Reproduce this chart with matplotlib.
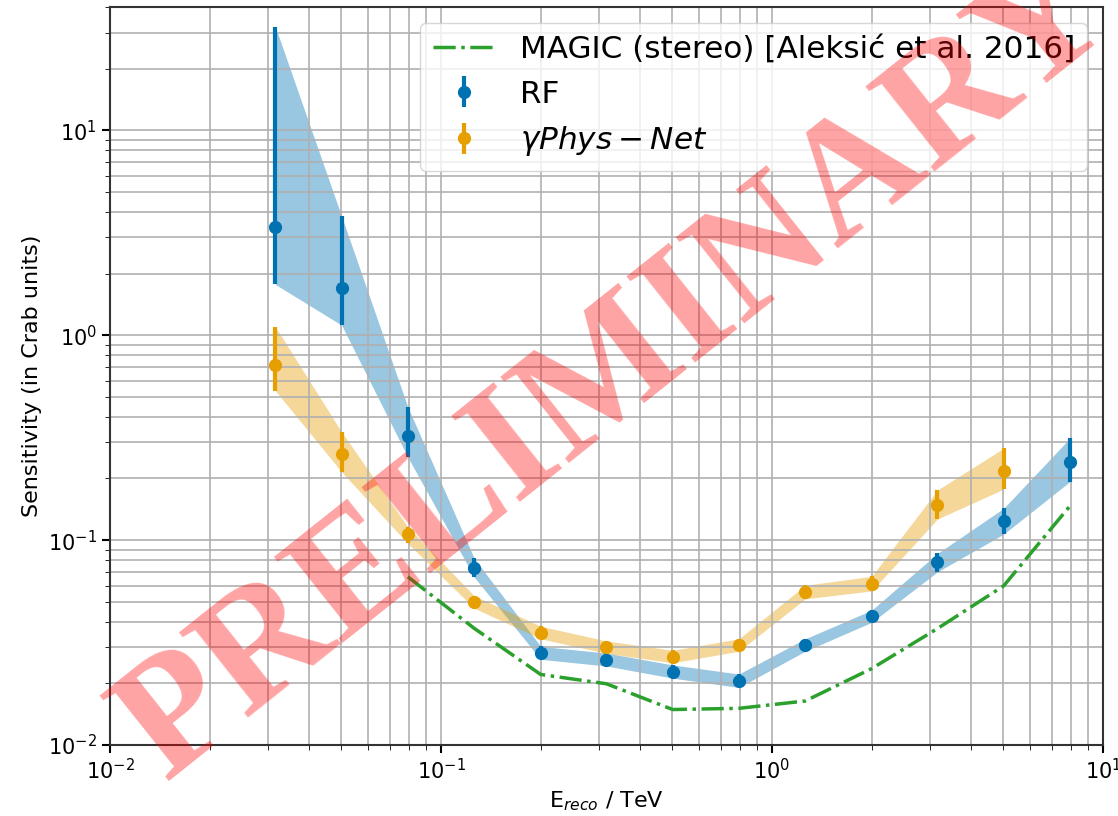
import numpy as np
import matplotlib
matplotlib.use('Agg')
import matplotlib.pyplot as plt

# energy bin centres (TeV)
energy = [0.0316, 0.0501, 0.0794, 0.126, 0.2, 0.316, 0.501, 0.794, 1.26, 2.0, 3.16, 5.01, 7.94]

# RF sensitivity (Crab units) with lower / upper limits
rf_sens = [3.36, 1.71, 0.323, 0.0732, 0.0282, 0.0261, 0.0228, 0.0206, 0.0307, 0.0425, 0.0778, 0.1234, 0.240]
rf_low = [1.77, 1.12, 0.254, 0.066, 0.0262, 0.0243, 0.0212, 0.0191, 0.0287, 0.0397, 0.0700, 0.107, 0.193]
rf_high = [32.0, 3.8, 0.446, 0.0815, 0.0303, 0.0281, 0.0246, 0.0222, 0.0330, 0.0455, 0.0861, 0.143, 0.314]

# gamma Phys-Net sensitivity
gp_energy = [0.0316, 0.0501, 0.0794, 0.126, 0.2, 0.316, 0.501, 0.794, 1.26, 2.0, 3.16, 5.01]
gp_sens = [0.718, 0.263, 0.1066, 0.0499, 0.0354, 0.0300, 0.0270, 0.0308, 0.0559, 0.0614, 0.148, 0.218]
gp_low = [0.536, 0.215, 0.0963, 0.0465, 0.0330, 0.0280, 0.0252, 0.0287, 0.0517, 0.0565, 0.1267, 0.1775]
gp_high = [1.10, 0.337, 0.116, 0.0535, 0.0380, 0.0322, 0.0290, 0.0330, 0.0602, 0.0666, 0.1756, 0.281]

# MAGIC stereo reference curve
magic_energy = [0.0794, 0.126, 0.2, 0.316, 0.501, 0.794, 1.26, 2.0, 3.16, 5.01, 7.94]
magic_sens = [0.0662, 0.0371, 0.0221, 0.0199, 0.0149, 0.0151, 0.0164, 0.0236, 0.037, 0.0598, 0.1466]

blue = '#0072B2'
orange = '#E69F00'
green = '#2ca02c'

fig = plt.figure(figsize=(11.18, 8.16), dpi=100)
ax = fig.add_axes([0.0984, 0.087, 0.8882, 0.9044])

ax.plot(magic_energy, magic_sens, '-.', color=green, lw=2.5,
        label='MAGIC (stereo) [Aleksić et al. 2016]')

def draw(x, y, lo, hi, c, lab):
    y = np.array(y); lo = np.array(lo); hi = np.array(hi)
    ax.fill_between(x, lo, hi, color=c, alpha=0.4, lw=0)
    ax.errorbar(x, y, yerr=[y - lo, hi - y], fmt='o', color=c, ms=8.5,
                elinewidth=3, label=lab)

draw(energy, rf_sens, rf_low, rf_high, blue, 'RF')
draw(gp_energy, gp_sens, gp_low, gp_high, orange, r'$\gamma Phys-Net$')

ax.set_xscale('log')
ax.set_yscale('log')
ax.set_xlim(1e-2, 1e1)
ax.set_ylim(1e-2, 40)
ax.grid(True, which='both', color='#b0b0b0', lw=1.2)
ax.tick_params(labelsize=15, which='major', length=6, width=1.5)
ax.tick_params(which='minor', length=3.5)
for s in ax.spines.values():
    s.set_linewidth(1.5)
    s.set_color('#333333')

ax.set_xlabel(r'E$_{reco}$ / TeV', fontsize=16)
ax.set_ylabel('Sensitivity (in Crab units)', fontsize=16)
ax.legend(loc='upper right', fontsize=22.4)

ax.text(0.51, 0.505, 'PRELIMINARY', transform=ax.transAxes, fontsize=121,
        family='Liberation Serif', fontweight='bold', color='#ff0000',
        alpha=0.36, rotation=38.5, ha='center', va='center', zorder=10)

fig.savefig('out.png', dpi=100)
